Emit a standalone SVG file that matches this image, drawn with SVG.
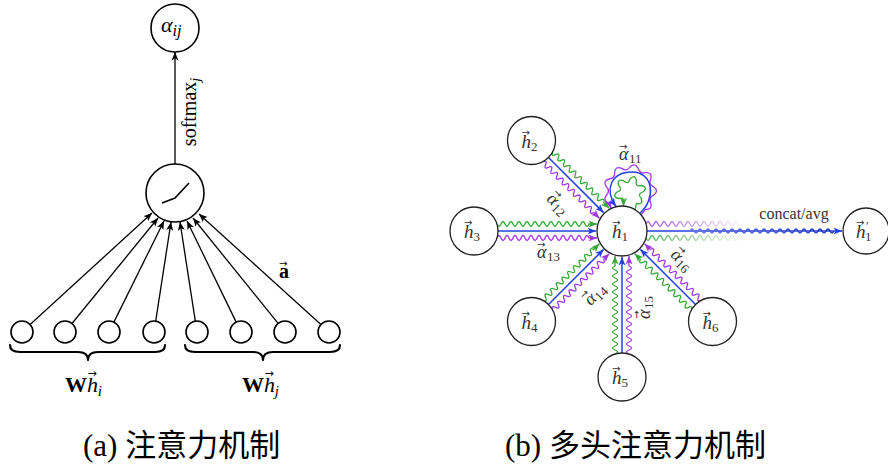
<svg xmlns="http://www.w3.org/2000/svg" width="888" height="469" viewBox="0 0 888 469">
<style>
.nodeA{fill:#fff;stroke:#000;stroke-width:1.6}
.nodeB{fill:#fff;stroke:#222;stroke-width:1.3}
.ln{stroke:#000;stroke-width:1.3;fill:none}
.t{font-family:"Liberation Serif","DejaVu Serif",serif;fill:#000}
.tb{font-family:"Liberation Serif","DejaVu Serif",serif;fill:#333}
.it{font-style:italic}
.vec{font-family:"DejaVu Sans",sans-serif;font-style:normal}
.g{stroke:#35a835;stroke-width:1.3;fill:none}
.b{stroke:#2040e0;stroke-width:1.5;fill:none}
.p{stroke:#a236e6;stroke-width:1.3;fill:none}
.brace{stroke:#000;stroke-width:2.2;fill:none;stroke-linecap:round;stroke-linejoin:round}
.cap{font-family:"Liberation Serif","Noto Sans CJK SC",serif;font-size:31px;fill:#000}
</style>
<defs>
<marker id="mk" markerUnits="userSpaceOnUse" markerWidth="10" markerHeight="8" refX="8.5" refY="4" orient="auto"><path d="M0,0.5 L8.5,4 L0,7.5 L2.2,4 Z" fill="#000"/></marker>
<marker id="mg" markerUnits="userSpaceOnUse" markerWidth="10" markerHeight="8" refX="8.5" refY="4" orient="auto"><path d="M0,0.5 L8.5,4 L0,7.5 L2.2,4 Z" fill="#35a835"/></marker>
<marker id="mb" markerUnits="userSpaceOnUse" markerWidth="10" markerHeight="8" refX="8.5" refY="4" orient="auto"><path d="M0,0.5 L8.5,4 L0,7.5 L2.2,4 Z" fill="#2040e0"/></marker>
<marker id="mp" markerUnits="userSpaceOnUse" markerWidth="10" markerHeight="8" refX="8.5" refY="4" orient="auto"><path d="M0,0.5 L8.5,4 L0,7.5 L2.2,4 Z" fill="#a236e6"/></marker>
<linearGradient id="gp" gradientUnits="userSpaceOnUse" x1="646" y1="0" x2="748" y2="0"><stop offset="0" stop-color="#a236e6" stop-opacity="0.9"/><stop offset="1" stop-color="#a236e6" stop-opacity="0"/></linearGradient>
<linearGradient id="gg" gradientUnits="userSpaceOnUse" x1="646" y1="0" x2="748" y2="0"><stop offset="0" stop-color="#35a835" stop-opacity="0.9"/><stop offset="1" stop-color="#35a835" stop-opacity="0"/></linearGradient>
<linearGradient id="gb" gradientUnits="userSpaceOnUse" x1="690" y1="0" x2="834" y2="0"><stop offset="0" stop-color="#6a7ae8"/><stop offset="1" stop-color="#2030b8"/></linearGradient>
<g id="e128">
<path class="g" marker-end="url(#mg)" d="M105,7q-2,-5 -4,0t-4,0t-4,0t-4,0t-4,0t-4,0t-4,0t-4,0t-4,0t-4,0t-4,0t-4,0t-4,0t-4,0t-4,0t-4,0t-4,0t-4,0L25,7"/>
<path class="b" marker-end="url(#mb)" d="M104,0L26,0"/>
<path class="p" marker-end="url(#mp)" d="M105,-7q-2,5 -4,0t-4,0t-4,0t-4,0t-4,0t-4,0t-4,0t-4,0t-4,0t-4,0t-4,0t-4,0t-4,0t-4,0t-4,0t-4,0t-4,0t-4,0L25,-7"/>
</g>
<g id="e148">
<path class="g" marker-end="url(#mg)" d="M125,7q-2,-5 -4,0t-4,0t-4,0t-4,0t-4,0t-4,0t-4,0t-4,0t-4,0t-4,0t-4,0t-4,0t-4,0t-4,0t-4,0t-4,0t-4,0t-4,0t-4,0t-4,0t-4,0t-4,0t-4,0L25,7"/>
<path class="b" marker-end="url(#mb)" d="M124,0L26,0"/>
<path class="p" marker-end="url(#mp)" d="M125,-7q-2,5 -4,0t-4,0t-4,0t-4,0t-4,0t-4,0t-4,0t-4,0t-4,0t-4,0t-4,0t-4,0t-4,0t-4,0t-4,0t-4,0t-4,0t-4,0t-4,0t-4,0t-4,0t-4,0t-4,0L25,-7"/>
</g>
<g id="e146">
<path class="g" marker-end="url(#mg)" d="M123,7q-2,-5 -4,0t-4,0t-4,0t-4,0t-4,0t-4,0t-4,0t-4,0t-4,0t-4,0t-4,0t-4,0t-4,0t-4,0t-4,0t-4,0t-4,0t-4,0t-4,0t-4,0t-4,0t-4,0L25,7"/>
<path class="b" marker-end="url(#mb)" d="M122,0L26,0"/>
<path class="p" marker-end="url(#mp)" d="M123,-7q-2,5 -4,0t-4,0t-4,0t-4,0t-4,0t-4,0t-4,0t-4,0t-4,0t-4,0t-4,0t-4,0t-4,0t-4,0t-4,0t-4,0t-4,0t-4,0t-4,0t-4,0t-4,0t-4,0L25,-7"/>
</g>
</defs>
<rect width="888" height="469" fill="#fff"/>

<!-- (a) connectors -->
<g id="connectors-a">
<path class="ln" marker-end="url(#mk)" d="M175,164 L175,52"/>
<path class="ln" marker-end="url(#mk)" d="M30.1,324.6 L152,213"/>
<path class="ln" marker-end="url(#mk)" d="M72,323.5 L158,218"/>
<path class="ln" marker-end="url(#mk)" d="M113.9,322.1 L164,221"/>
<path class="ln" marker-end="url(#mk)" d="M155.7,321.1 L171,222"/>
<path class="ln" marker-end="url(#mk)" d="M195.3,321.1 L180,222"/>
<path class="ln" marker-end="url(#mk)" d="M236.2,322.1 L187,221"/>
<path class="ln" marker-end="url(#mk)" d="M278.1,323.4 L193,218"/>
<path class="ln" marker-end="url(#mk)" d="M320.9,324.6 L199,214"/>
</g>

<g id="alpha-ij">
<circle class="nodeA" cx="175" cy="28" r="24"/>
<text class="t it" x="161" y="32" font-size="22" fill="#1a2450">α<tspan font-size="16" dy="4">ij</tspan></text>
</g>
<g id="neuron">
<circle class="nodeA" cx="175" cy="193" r="29"/>
<polyline points="162,203 175,198 189,183" fill="none" stroke="#000" stroke-width="1.6"/>
</g>
<text class="t" transform="translate(196,112) rotate(-90)" text-anchor="middle" font-size="20">softmax<tspan class="it" font-size="14" dy="4">j</tspan></text>
<text class="t" x="279" y="278" font-size="20"><tspan font-weight="bold">a</tspan><tspan class="vec" font-size="10" dx="-10" dy="-11">→</tspan></text>
<g id="inputs">
<circle class="nodeA" cx="22" cy="332" r="11"/>
<circle class="nodeA" cx="65" cy="332" r="11"/>
<circle class="nodeA" cx="109" cy="332" r="11"/>
<circle class="nodeA" cx="154" cy="332" r="11"/>
<circle class="nodeA" cx="197" cy="332" r="11"/>
<circle class="nodeA" cx="241" cy="332" r="11"/>
<circle class="nodeA" cx="285" cy="332" r="11"/>
<circle class="nodeA" cx="329" cy="332" r="11"/>
</g>
<path class="brace" d="M10,345 Q10,352 20,352 L78,352 Q88,352 88,360 Q88,352 98,352 L155,352 Q165,352 165,345"/>
<path class="brace" d="M185,345 Q185,352 195,352 L253,352 Q263,352 263,360 Q263,352 273,352 L330,352 Q340,352 340,345"/>
<text class="t" x="65" y="392" font-size="22"><tspan font-weight="bold">W</tspan><tspan class="it">h</tspan><tspan class="vec" font-size="11" dx="-10.5" dy="-15">→</tspan><tspan class="it" font-size="15" dx="1" dy="19">i</tspan></text>
<text class="t" x="242" y="392" font-size="22"><tspan font-weight="bold">W</tspan><tspan class="it">h</tspan><tspan class="vec" font-size="11" dx="-10.5" dy="-15">→</tspan><tspan class="it" font-size="15" dx="1" dy="19">j</tspan></text>

<!-- (b) connectors -->
<g id="connectors-b">
<use href="#e128" transform="translate(622,231) rotate(-135)"/>
<use href="#e148" transform="translate(622,231) rotate(180)"/>
<use href="#e128" transform="translate(622,231) rotate(135)"/>
<use href="#e146" transform="translate(622,231) rotate(90)"/>
<use href="#e128" transform="translate(622,231) rotate(45)"/>
<path class="p" marker-end="url(#mp)" d="M641,215 L645.4,209.4 Q652.5,209.9 650.8,203 Q648.2,197.6 653.6,195.2 Q659.4,191 653.6,186.8 Q648.2,184.4 650.8,179 Q652.5,172.1 645.4,172.6 Q639.7,174.2 638.2,168.4 Q635.1,162 630,167 Q626.6,171.9 621.8,168.4 Q615.3,165.5 614.6,172.6 Q615.1,178.5 609.2,179 Q602.4,180.9 606.4,186.8 Q610.6,191 606.4,195.2 Q602.4,201.1 609.2,203 L611,208.4"/>
<path class="b" marker-end="url(#mb)" d="M640,213 C656,199 654,172 632,172 C611,172 604,190 616,206.5"/>
<path class="g" marker-end="url(#mg)" d="M635,209.6 L636.5,203.26 Q643.4,205.4 641.26,198.5 Q636.8,193.8 643,192 Q648.4,187.1 641.26,185.5 Q634.9,187.1 636.5,180.74 Q634.9,173.6 630,179 Q628.2,185.2 623.5,180.74 Q616.6,178.6 618.74,185.5 Q623.2,190.2 617,192 Q611.6,196.9 618.74,198.5 Q625.1,196.9 623.5,203.26 L623.5,206.2"/>
<path d="M646,224q2,-5 4,0t4,0t4,0t4,0t4,0t4,0t4,0t4,0t4,0t4,0t4,0t4,0t4,0t4,0t4,0t4,0t4,0t4,0t4,0t4,0t4,0t4,0t4,0t4,0t4,0" fill="none" stroke="url(#gp)" stroke-width="1.3"/>
<path d="M646,238q2,5 4,0t4,0t4,0t4,0t4,0t4,0t4,0t4,0t4,0t4,0t4,0t4,0t4,0t4,0t4,0t4,0t4,0t4,0t4,0t4,0t4,0t4,0t4,0t4,0t4,0" fill="none" stroke="url(#gg)" stroke-width="1.3"/>
<path class="b" marker-end="url(#mb)" d="M647,231 L842,231"/>
<path d="M690,231q2,-4 4,0t4,0t4,0t4,0t4,0t4,0t4,0t4,0t4,0t4,0t4,0t4,0t4,0t4,0t4,0t4,0t4,0t4,0t4,0t4,0t4,0t4,0t4,0t4,0t4,0t4,0t4,0t4,0t4,0t4,0t4,0t4,0t4,0t4,0t4,0t4,0" fill="none" stroke="url(#gb)" stroke-width="1.5"/>
</g>

<g id="h1">
<circle class="nodeB" cx="622" cy="231" r="25"/>
<text class="tb" x="612" y="238" font-size="19"><tspan class="it">h</tspan><tspan class="vec" font-size="10" dx="-9.5" dy="-12">→</tspan><tspan font-size="13" dx="1.1" dy="15">1</tspan></text>
</g>
<g id="h2">
<circle class="nodeB" cx="531.5" cy="140.5" r="24"/>
<text class="tb" x="521.5" y="147.5" font-size="19"><tspan class="it">h</tspan><tspan class="vec" font-size="10" dx="-9.5" dy="-12">→</tspan><tspan font-size="13" dx="1.1" dy="15">2</tspan></text>
</g>
<g id="h3">
<circle class="nodeB" cx="474" cy="231" r="24"/>
<text class="tb" x="464" y="238" font-size="19"><tspan class="it">h</tspan><tspan class="vec" font-size="10" dx="-9.5" dy="-12">→</tspan><tspan font-size="13" dx="1.1" dy="15">3</tspan></text>
</g>
<g id="h4">
<circle class="nodeB" cx="531.5" cy="321.5" r="24"/>
<text class="tb" x="521.5" y="328.5" font-size="19"><tspan class="it">h</tspan><tspan class="vec" font-size="10" dx="-9.5" dy="-12">→</tspan><tspan font-size="13" dx="1.1" dy="15">4</tspan></text>
</g>
<g id="h5">
<circle class="nodeB" cx="622" cy="377" r="24"/>
<text class="tb" x="612" y="384" font-size="19"><tspan class="it">h</tspan><tspan class="vec" font-size="10" dx="-9.5" dy="-12">→</tspan><tspan font-size="13" dx="1.1" dy="15">5</tspan></text>
</g>
<g id="h6">
<circle class="nodeB" cx="712.5" cy="321.5" r="24"/>
<text class="tb" x="702.5" y="328.5" font-size="19"><tspan class="it">h</tspan><tspan class="vec" font-size="10" dx="-9.5" dy="-12">→</tspan><tspan font-size="13" dx="1.1" dy="15">6</tspan></text>
</g>
<g id="h1p">
<circle class="nodeB" cx="866" cy="231" r="23"/>
<text class="tb" x="856" y="238" font-size="19"><tspan class="it">h</tspan><tspan class="vec" font-size="10" dx="-9.5" dy="-12">→</tspan><tspan font-size="12" dx="1.5" dy="4">′</tspan><tspan font-size="13" dx="-3.5" dy="11">1</tspan></text>
</g>

<g id="edge-labels">
<text class="tb" transform="translate(630,155)" x="-11" y="5"><tspan class="it" font-size="18">α</tspan><tspan class="vec" font-size="10" dx="-9.5" dy="-10">→</tspan><tspan font-size="13" dx="1.5" dy="13">11</tspan></text>
<text class="tb" transform="translate(557,204) rotate(45)" x="-11" y="5"><tspan class="it" font-size="18">α</tspan><tspan class="vec" font-size="10" dx="-9.5" dy="-10">→</tspan><tspan font-size="13" dx="1.5" dy="13">12</tspan></text>
<text class="tb" transform="translate(548,253)" x="-11" y="5"><tspan class="it" font-size="18">α</tspan><tspan class="vec" font-size="10" dx="-9.5" dy="-10">→</tspan><tspan font-size="13" dx="1.5" dy="13">13</tspan></text>
<text class="tb" transform="translate(595,295) rotate(-45)" x="-11" y="5"><tspan class="it" font-size="18">α</tspan><tspan class="vec" font-size="10" dx="-9.5" dy="-10">→</tspan><tspan font-size="13" dx="1.5" dy="13">14</tspan></text>
<text class="tb" transform="translate(645,308) rotate(-90)" x="-11" y="5"><tspan class="it" font-size="18">α</tspan><tspan class="vec" font-size="10" dx="-9.5" dy="-10">→</tspan><tspan font-size="13" dx="1.5" dy="13">15</tspan></text>
<text class="tb" transform="translate(681,260) rotate(45)" x="-11" y="5"><tspan class="it" font-size="18">α</tspan><tspan class="vec" font-size="10" dx="-9.5" dy="-10">→</tspan><tspan font-size="13" dx="1.5" dy="13">16</tspan></text>
<text class="tb" x="794" y="219" font-size="16" text-anchor="middle" fill="#222">concat/avg</text>
</g>

<text class="cap" x="83" y="456">(a) 注意力机制</text>
<text class="cap" x="505" y="456">(b) 多头注意力机制</text>
</svg>
